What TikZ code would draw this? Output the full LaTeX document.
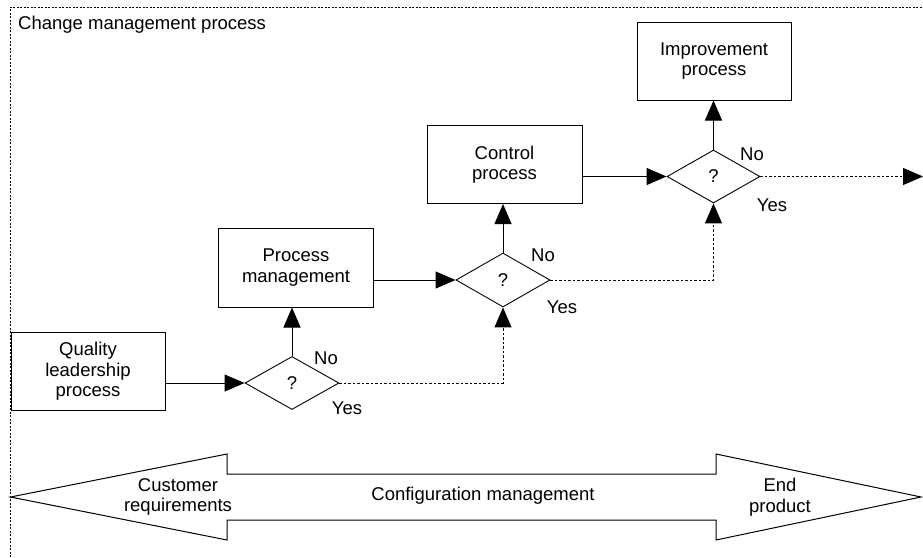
\documentclass[tikz,border=0pt]{standalone}
\usepackage{fontspec}
\setmainfont{Liberation Sans}
\usetikzlibrary{arrows.meta,shapes.geometric}

\begin{document}
\begin{tikzpicture}[x=1pt,y=-1pt,
  every node/.style={font=\fontsize{18.5}{20.5}\selectfont},
  procbox/.style={draw,line width=1pt,rectangle,inner sep=0pt,
    minimum width=154pt,minimum height=78pt,align=center},
  decide/.style={draw,line width=0.9pt,diamond,inner sep=0pt,aspect=1.8,
    minimum width=94pt,minimum height=53pt},
  flow/.style={line width=1pt,-{Triangle[length=20pt,width=17pt]}},
  alt/.style={line width=1pt,dash pattern=on 2.5pt off 2pt,-{Triangle[length=20pt,width=17pt]}},
  frame/.style={line width=1pt,dash pattern=on 2pt off 1.5pt},
  answer/.style={inner sep=0pt}]

\useasboundingbox (0,0) rectangle (923,557);

% outer frame of the change management process
\coordinate (fa) at (10,557);
\coordinate (fb) at (10,7);
\coordinate (fc) at (923,7);
\draw[frame] (fa) -- (fb) -- (fc);
\node[anchor=base west,inner sep=0pt] (title) at (18,29) {Change management process};

% process steps
\node[procbox] (quality) at (88,371.5) {Quality\\leadership\\process};
\node[procbox,minimum width=155pt,minimum height=79pt] (pm) at (296,267.5) {Process\\management};
\node[procbox,minimum width=155pt] (cp) at (504.5,164.5) {Control\\process};
\node[procbox] (ip) at (714,61) {Improvement\\process};

% decisions
\node[decide] (d1) at (292,383) {?};
\node[decide,minimum height=54pt] (d2) at (503,280) {?};
\node[decide,minimum width=93pt] (d3) at (713.5,176.5) {?};

% decision answers
\node[answer] (no1) at (326,358) {No};
\node[answer] (yes1) at (347,408) {Yes};
\node[answer] (no2) at (543,255) {No};
\node[answer] (yes2) at (562,307) {Yes};
\node[answer] (no3) at (752,154) {No};
\node[answer] (yes3) at (772,205) {Yes};

% main flow
\draw[flow] (quality.east |- d1.west) -- (d1.west);
\draw[flow] (d1.north) -- (d1.north |- pm.south);
\draw[flow] (pm.east |- d2.west) -- (d2.west);
\draw[flow] (d2.north) -- (d2.north |- cp.south);
\draw[flow] (cp.east |- d3.west) -- (d3.west);
\draw[flow] (d3.north) -- (d3.north |- ip.south);

% "yes" branches
\coordinate (out) at (923,176.5);
\draw[alt] (d1.east) -| (d2.south);
\draw[alt] (d2.east) -| (d3.south);
\draw[alt] (d3.east) -- (out);

% configuration management double arrow
\draw[line width=1pt,line join=miter]
  (10.5,497) -- (227,454) -- (227,474) -- (716,474) -- (716,454) -- (921,497)
  -- (716,540) -- (716,520) -- (227,520) -- (227,540) -- cycle;
\node[align=center] (cust) at (178,497) {Customer\\requirements};
\node (conf) at (483,496) {Configuration management};
\node[align=center] (endp) at (780,497) {End\\product};
\end{tikzpicture}
\end{document}
